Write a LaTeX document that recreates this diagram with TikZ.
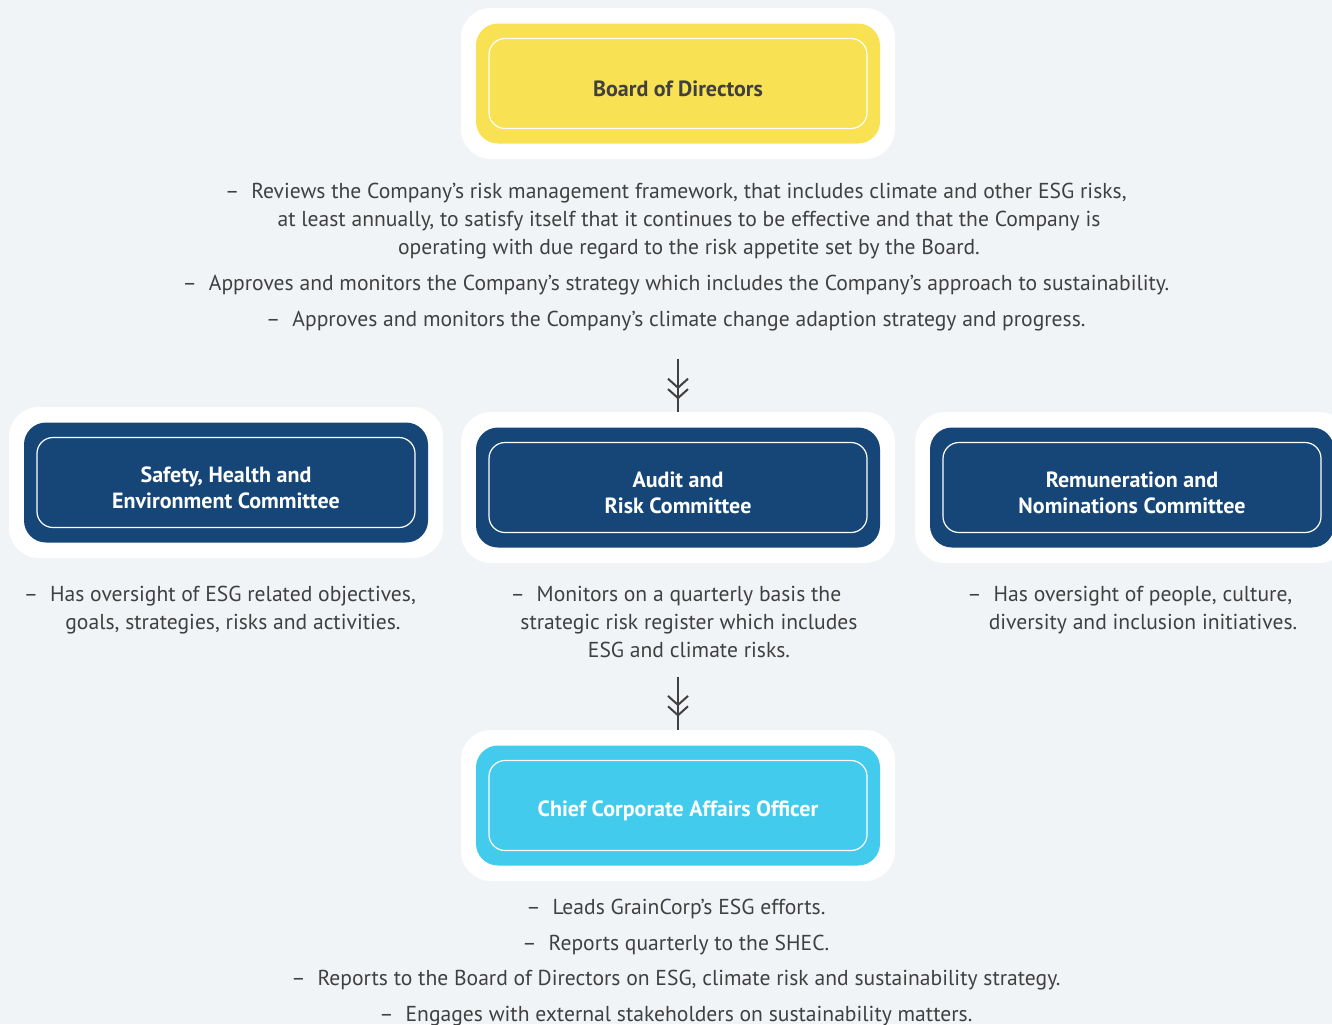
\documentclass[tikz,border=0pt]{standalone}
\usepackage{fontspec}
\setmainfont{PT Sans}
\usetikzlibrary{positioning,arrows.meta,decorations.markings}
\definecolor{pagebg}{HTML}{F1F4F7}
\definecolor{boardyellow}{HTML}{F9E154}
\definecolor{cmtnavy}{HTML}{164677}
\definecolor{officercyan}{HTML}{42CBEC}
\definecolor{bodygray}{HTML}{404040}
\newcommand{\hangdash}{\llap{\textendash\hspace{6pt}}}

\begin{document}
\begin{tikzpicture}[x=0.5pt,y=-0.5pt,
shell/.style={fill=white,rounded corners=15pt,minimum width=217pt,minimum height=75.5pt,inner sep=0pt},
card/.style={rounded corners=11pt,minimum width=202pt,minimum height=60pt,inner sep=0pt},
frame/.style={draw=white,line width=0.6pt,rounded corners=8pt,minimum width=189pt,minimum height=45pt,inner sep=0pt},
boxtext/.style={font=\bfseries\fontsize{11}{13}\selectfont,align=center,inner sep=0pt},
note/.style={text=bodygray,font=\fontsize{10.8}{14}\selectfont,align=center,inner sep=0pt,anchor=base},
flow/.style={draw=bodygray,line width=1pt,postaction={decorate},decoration={markings,mark=at position #1 with {\arrow{Straight Barb[length=4.5pt,width=10pt,sep=-0.5pt]Straight Barb[length=4.5pt,width=10pt]}}}}]
\useasboundingbox (0,0) rectangle (1332,1024);
\clip (0,0) rectangle (1332,1024);
\fill[pagebg] (0,0) rectangle (1332,1024);

\node[shell] (boardshell) at (678,83.5) {};
\node[card,fill=boardyellow] (boardcard) at (boardshell) {};
\node[frame] (boardframe) at (boardcard) {};
\node[boxtext,text=bodygray] (board) at ([yshift=-2.5pt]boardframe.center) {Board of Directors};

\node[note] (boardnote1) at (689,254) {\hangdash Reviews the Company’s risk management framework, that includes climate and other ESG risks,\\ at least annually, to satisfy itself that it continues to be effective and that the Company is\\ operating with due regard to the risk appetite set by the Board.};
\node[note] (boardnote2) at (689,290) {\hangdash Approves and monitors the Company’s strategy which includes the Company’s approach to sustainability.};
\node[note] (boardnote3) at (689,326) {\hangdash Approves and monitors the Company’s climate change adaption strategy and progress.};

\node[shell] (shecshell) at (226,482.5) {};
\node[card,fill=cmtnavy] (sheccard) at (shecshell) {};
\node[frame] (shecframe) at (sheccard) {};
\node[boxtext,text=white] (shec) at ([yshift=-2.5pt]shecframe.center) {Safety, Health and\\Environment Committee};

\node[shell] (arcshell) at (678,487.5) {};
\node[card,fill=cmtnavy] (arccard) at (arcshell) {};
\node[frame] (arcframe) at (arccard) {};
\node[boxtext,text=white] (arc) at ([yshift=-2.5pt]arcframe.center) {Audit and\\Risk Committee};

\node[shell] (rncshell) at (1132,487.5) {};
\node[card,fill=cmtnavy] (rnccard) at (rncshell) {};
\node[frame] (rncframe) at (rnccard) {};
\node[boxtext,text=white] (rnc) at ([yshift=-2.5pt]rncframe.center) {Remuneration and\\Nominations Committee};

\node[note] (shecnote) at (233,629) {\hangdash Has oversight of ESG related objectives,\\goals, strategies, risks and activities.};
\node[note] (arcnote) at (689,657) {\hangdash Monitors on a quarterly basis the\\strategic risk register which includes\\ESG and climate risks.};
\node[note] (rncnote) at (1143,629) {\hangdash Has oversight of people, culture,\\diversity and inclusion initiatives.};

\node[shell] (ccaoshell) at (678,805.5) {};
\node[card,fill=officercyan] (ccaocard) at (ccaoshell) {};
\node[frame] (ccaoframe) at (ccaocard) {};
\node[boxtext,text=white] (ccao) at ([yshift=-2.5pt]ccaoframe.center) {Chief Corporate Affairs Officer};

\node[note] (ccaonote1) at (689,914) {\hangdash Leads GrainCorp’s ESG efforts.};
\node[note] (ccaonote2) at (689,950) {\hangdash Reports quarterly to the SHEC.};
\node[note] (ccaonote3) at (689,985) {\hangdash Reports to the Board of Directors on ESG, climate risk and sustainability strategy.};
\node[note] (ccaonote4) at (689,1021) {\hangdash Engages with external stakeholders on sustainability matters.};

\coordinate[above=26.5pt of arcshell.north] (cue1);
\coordinate[above=26.5pt of ccaoshell.north] (cue2);
\draw[flow=0.77] (cue1) -- (arcshell.north);
\draw[flow=0.755] (cue2) -- (ccaoshell.north);
\end{tikzpicture}
\end{document}
